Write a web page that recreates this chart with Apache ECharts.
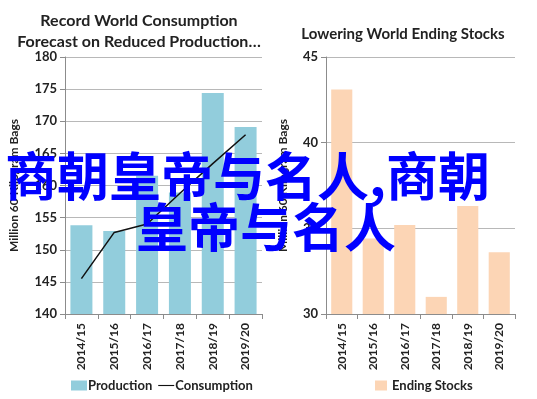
<!DOCTYPE html>
<html>
<head>
<meta charset="utf-8">
<script src="https://cdn.jsdelivr.net/npm/echarts@6/dist/echarts.min.js"></script>
<style>
  html, body { margin: 0; padding: 0; background: #fff; }
  #chart { width: 537px; height: 399px; }
</style>
</head>
<body>
<div id="chart"></div>
<script>
  // chart data
  const categories = ['2014/15', '2015/16', '2016/17', '2017/18', '2018/19', '2019/20'];
  const production = [153.8, 152.9, 161.5, 158.9, 174.4, 169.1];
  const consumption = [145.5, 152.7, 154.0, 158.8, 163.4, 167.9];
  const endingStocks = [43.1, 34.4, 35.2, 31.0, 36.3, 33.6];
  const overlayLines = ['商朝皇帝与名人,商朝', '皇帝与名人'];

  const font = 'Lato, "Open Sans", sans-serif';
  const gridColor = '#b8b8b8';
  const axisColor = '#8c8c8c';
  // plain dash for the line legend entry (extra move-to points keep the box size)
  const dashIcon = 'path://M0,0L0,0M0,4.3H20V5.7H0ZM20,10L20,10';

  function valueAxis(gridIndex, min, max, gap) {
    return {
      type: 'value', gridIndex: gridIndex, min: min, max: max, interval: 5,
      name: 'Million 60 Kilogram Bags', nameLocation: 'middle', nameGap: gap,
      nameTextStyle: { fontFamily: font, fontWeight: 'bold', fontSize: 12, color: '#222' },
      axisLine: { show: true, lineStyle: { color: axisColor } },
      axisTick: { show: true, length: 5, lineStyle: { color: axisColor } },
      axisLabel: { fontFamily: font, fontWeight: 'bold', fontSize: 13, color: '#222', margin: 8 },
      splitLine: { lineStyle: { color: gridColor } }
    };
  }

  function catAxis(gridIndex) {
    return {
      type: 'category', gridIndex: gridIndex, data: categories,
      axisLine: { lineStyle: { color: axisColor } },
      axisTick: { show: true, length: 5, lineStyle: { color: axisColor } },
      axisLabel: { rotate: 90, fontFamily: font, fontWeight: 'bold', fontSize: 12, color: '#222', margin: 9 }
    };
  }

  const chart = echarts.init(document.getElementById('chart'));
  chart.setOption({
    animation: false,
    title: [
      {
        text: 'Record World Consumption\nForecast on Reduced Production…',
        left: 134, top: 5, textAlign: 'center',
        textStyle: { fontFamily: font, fontWeight: 'bold', fontSize: 16, lineHeight: 21, color: '#222' }
      },
      {
        text: 'Lowering World Ending Stocks',
        left: 398, top: 22, textAlign: 'center',
        textStyle: { fontFamily: font, fontWeight: 'bold', fontSize: 15, color: '#222' }
      }
    ],
    grid: [
      { left: 65, top: 57, width: 197, height: 257 },
      { left: 326, top: 57, width: 189, height: 257 }
    ],
    xAxis: [catAxis(0), catAxis(1)],
    yAxis: [valueAxis(0, 140, 180, 45), valueAxis(1, 30, 45, 37)],
    legend: [
      {
        data: [{ name: 'Production', icon: 'rect' }, { name: 'Consumption', icon: dashIcon }],
        left: 66, top: 374, itemWidth: 16, itemHeight: 10, itemGap: 6,
        textStyle: { fontFamily: font, fontWeight: 'bold', fontSize: 13, color: '#222', padding: [0, 0, 0, -4] }
      },
      {
        data: [{ name: 'Ending Stocks', icon: 'rect' }],
        left: 370, top: 374, itemWidth: 12, itemHeight: 10,
        textStyle: { fontFamily: font, fontWeight: 'bold', fontSize: 13, color: '#222' }
      }
    ],
    series: [
      {
        name: 'Production', type: 'bar', xAxisIndex: 0, yAxisIndex: 0,
        data: production, barCategoryGap: '33%',
        itemStyle: { color: '#92cddc' }
      },
      {
        name: 'Consumption', type: 'line', xAxisIndex: 0, yAxisIndex: 0,
        data: consumption, symbol: 'none',
        lineStyle: { color: '#111', width: 1.5 }, itemStyle: { color: '#111' }
      },
      {
        name: 'Ending Stocks', type: 'bar', xAxisIndex: 1, yAxisIndex: 1,
        data: endingStocks, barCategoryGap: '33%',
        itemStyle: { color: '#fcd5b5' }
      }
    ],
    graphic: [
      {
        type: 'text', left: 5, top: 150, z: 100,
        style: { text: overlayLines[0], fill: '#0000ff', fontSize: 52, fontWeight: 'bold', fontFamily: '"Noto Sans CJK SC"' }
      },
      {
        type: 'text', left: 136, top: 201, z: 100,
        style: { text: overlayLines[1], fill: '#0000ff', fontSize: 52, fontWeight: 'bold', fontFamily: '"Noto Sans CJK SC"' }
      }
    ]
  });
</script>
</body>
</html>
